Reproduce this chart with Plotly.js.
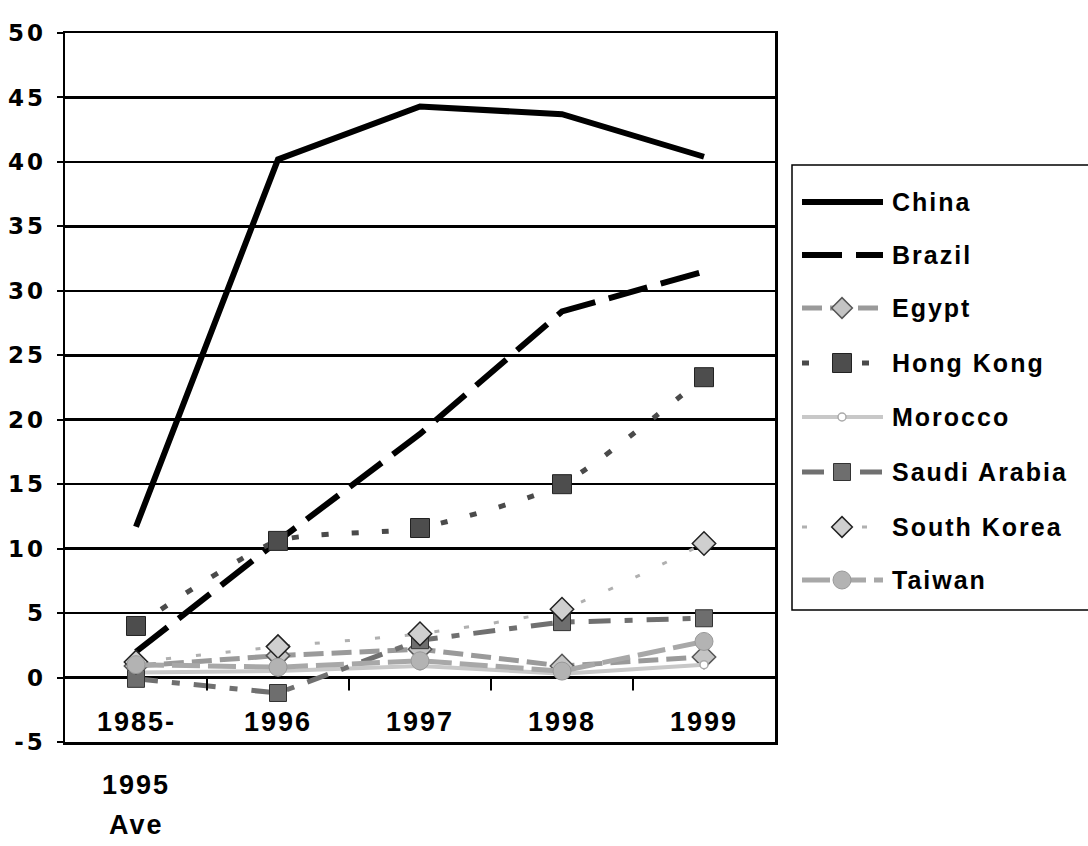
<!DOCTYPE html>
<html>
<head>
<meta charset="utf-8">
<script src="https://cdn.plot.ly/plotly-3.0.1.min.js"></script>
<style>
  html, body { margin: 0; padding: 0; background: #fff; }
  #chart { width: 1088px; height: 846px; }
  .annotation-text { letter-spacing: 2px; }
  .ytick text { letter-spacing: 3px; }
</style>
</head>
<body>
<div id="chart"></div>
<script>
// ---- Data ----
const categories = ["1985-1995 Ave", "1996", "1997", "1998", "1999"];
const tickLabels = ["1985-<br>1995<br>Ave", "1996", "1997", "1998", "1999"];
const seriesNames = ["China", "Brazil", "Egypt", "Hong Kong", "Morocco", "Saudi Arabia", "South Korea", "Taiwan"];
const china       = [11.7, 40.2, 44.3, 43.7, 40.4];
const brazil      = [2.0, 10.6, 18.9, 28.4, 31.5];
const egypt       = [0.9, 1.7, 2.2, 0.9, 1.6];
const hongKong    = [4.0, 10.6, 11.6, 15.0, 23.3];
const morocco     = [0.4, 0.5, 0.9, 0.3, 1.0];
const saudiArabia = [-0.1, -1.2, 2.9, 4.3, 4.6];
const southKorea  = [1.2, 2.4, 3.4, 5.3, 10.4];
const taiwan      = [1.0, 0.8, 1.3, 0.5, 2.8];
const yTicks = [-5, 0, 5, 10, 15, 20, 25, 30, 35, 40, 45, 50];

const values = [china, brazil, egypt, hongKong, morocco, saudiArabia, southKorea, taiwan];

// ---- Styles ----
const styles = [
  { color: "#000000", width: 6, dash: "solid", shape: "linear", marker: null },
  { color: "#000000", width: 6, dash: "40px,14px", shape: "linear", marker: null },
  { color: "#9a9a9a", width: 5, dash: "20px,8px", shape: "linear",
    marker: { symbol: "diamond", size: 18, color: "#c4c4c4", line: { color: "#555", width: 1.5 } } },
  { color: "#4a4a4a", width: 5, dash: "7px,23px", shape: "spline",
    marker: { symbol: "square", size: 19, color: "#4d4d4d", line: { color: "#222", width: 1 } } },
  { color: "#c8c8c8", width: 4, dash: "solid", shape: "linear",
    marker: { symbol: "circle", size: 8, color: "#ffffff", line: { color: "#aaa", width: 1.5 } } },
  { color: "#707070", width: 5, dash: "22px,14px,8px,14px", shape: "linear",
    marker: { symbol: "square", size: 17, color: "#6e6e6e", line: { color: "#333", width: 1 } } },
  { color: "#b0b0b0", width: 3, dash: "5px,25px", shape: "spline",
    marker: { symbol: "diamond", size: 18, color: "#cfcfcf", line: { color: "#222", width: 1.5 } } },
  { color: "#a8a8a8", width: 5, dash: "28px,8px", shape: "linear",
    marker: { symbol: "circle", size: 18, color: "#b3b3b3", line: { color: "#999", width: 1 } } }
];

const xIdx = categories.map((c, i) => i);

const traces = values.map((v, k) => {
  const s = styles[k];
  const t = {
    type: "scatter",
    name: seriesNames[k],
    x: xIdx,
    y: v,
    mode: s.marker ? "lines+markers" : "lines",
    line: { color: s.color, width: s.width, dash: s.dash, shape: s.shape, smoothing: 0.6 },
    showlegend: false,
    cliponaxis: false
  };
  if (s.marker) t.marker = s.marker;
  return t;
});

// ---- Geometry helpers (pixel -> paper) ----
const L = 65, R = 775, T = 33, B = 742;
const px = p => (p - L) / (R - L);
const py = p => (B - p) / (B - T);

const shapes = [];
const annotations = [];

// x tick marks at category boundaries on the zero line
for (let i = 0; i < categories.length - 1; i++) {
  shapes.push({ type: "line", xref: "x", yref: "y", x0: i + 0.5, x1: i + 0.5, y0: 0, y1: -1.0,
    line: { color: "#000", width: 2 } });
}

// x category labels (multi-line, Excel-like spacing)
const lineY = [722, 785, 825];
tickLabels.forEach((lab, i) => {
  lab.split("<br>").forEach((part, j) => {
    annotations.push({
      xref: "x", yref: "paper", x: i, y: py(lineY[j]),
      text: part, showarrow: false, xanchor: "center", yanchor: "middle",
      font: { family: "Liberation Sans Narrow, Liberation Sans, Arial", size: 27, color: "#000", weight: 700 }
    });
  });
});

// ---- Custom legend ----
shapes.push({ type: "rect", xref: "paper", yref: "paper",
  x0: px(792), x1: px(1095), y0: py(610), y1: py(165),
  line: { color: "#000", width: 1.5 }, fillcolor: "#fff", layer: "above" });

const legY = [202, 255, 308, 363, 417, 472, 527, 580];
seriesNames.forEach((name, k) => {
  const s = styles[k];
  const y = legY[k];
  shapes.push({ type: "line", xref: "paper", yref: "paper",
    x0: px(802), x1: px(883), y0: py(y), y1: py(y),
    line: { color: s.color, width: s.width, dash: s.dash }, layer: "above" });
  if (s.marker) {
    const cx = 842, m = s.marker, h = m.size / 2;
    const ln = { color: m.line.color, width: m.line.width };
    if (m.symbol === "square") {
      shapes.push({ type: "rect", xref: "paper", yref: "paper",
        x0: px(cx - h), x1: px(cx + h), y0: py(y + h), y1: py(y - h),
        fillcolor: m.color, line: ln, layer: "above" });
    } else if (m.symbol === "circle") {
      shapes.push({ type: "circle", xref: "paper", yref: "paper",
        x0: px(cx - h), x1: px(cx + h), y0: py(y + h), y1: py(y - h),
        fillcolor: m.color, line: ln, layer: "above" });
    } else if (m.symbol === "diamond") {
      const d = h * 1.15;
      const path = `M ${px(cx - d)} ${py(y)} L ${px(cx)} ${py(y - d)} L ${px(cx + d)} ${py(y)} L ${px(cx)} ${py(y + d)} Z`;
      shapes.push({ type: "path", xref: "paper", yref: "paper", path: path,
        fillcolor: m.color, line: ln, layer: "above" });
    }
  }
  annotations.push({
    xref: "paper", yref: "paper", x: px(890), y: py(y),
    text: name, showarrow: false, xanchor: "left", yanchor: "middle",
    font: { family: "Liberation Sans, Arial", size: 25, color: "#000", weight: 700 }
  });
});

const layout = {
  width: 1088, height: 846,
  margin: { l: L, r: 1088 - R, t: T, b: 846 - B, pad: 0 },
  paper_bgcolor: "#fff", plot_bgcolor: "#fff",
  showlegend: false,
  xaxis: {
    type: "linear", range: [-0.5, 4.5],
    showgrid: false, zeroline: false, showticklabels: false, ticks: "",
    showline: true, linecolor: "#000", linewidth: 2.5, mirror: true
  },
  yaxis: {
    range: [-5, 50], tickvals: yTicks, ticktext: yTicks.map(String),
    showgrid: true, gridcolor: "#000", gridwidth: 2.5,
    zeroline: false,
    showline: true, linecolor: "#000", linewidth: 2.5, mirror: true,
    ticks: "outside", ticklen: 6, tickwidth: 2, tickcolor: "#000",
    ticklabelstandoff: 6,
    tickfont: { family: "DejaVu Sans, Liberation Sans, Arial", size: 23, color: "#000", weight: 700 }
  },
  shapes: shapes,
  annotations: annotations
};

Plotly.newPlot("chart", traces, layout, { staticPlot: true, displayModeBar: false });
</script>
</body>
</html>
